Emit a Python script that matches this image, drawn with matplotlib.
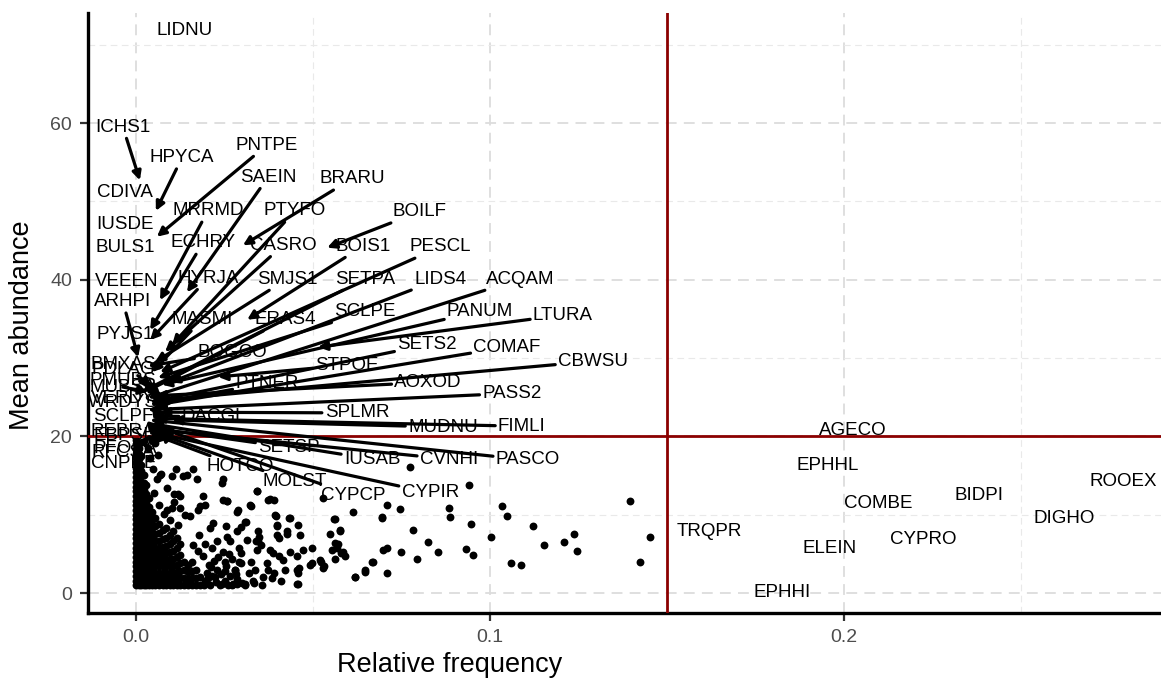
import matplotlib
matplotlib.use('Agg')
import matplotlib.pyplot as plt

plt.rcParams['font.family'] = ['Liberation Sans', 'DejaVu Sans']

# ---------------- labelled species (data point + label placement) ----------------
species = ["LIDNU", "ICHS1", "HPYCA", "PNTPE", "CDIVA", "SAEIN", "BRARU", "MRRMD",
           "PTYFO", "BOILF", "IUSDE", "ECHRY", "CASRO", "BOIS1", "PESCL", "BULS1",
           "VEEEN", "HYRJA", "SMJS1", "SETPA", "LIDS4", "ACQAM", "ARHPI", "SCLPE",
           "PANUM", "LTURA", "MASMI", "ERAS4", "PYJS1", "BOGCO", "SETS2", "COMAF",
           "CBWSU", "STPOE", "PTNER", "AOXOD", "PASS2", "DACGL", "SPLMR", "MUDNU",
           "FIMLI", "SETSP", "IUSAB", "CVNHI", "PASCO", "HOTCO", "MOLST", "CYPCP",
           "CYPIR", "BMXAS", "PDLAG", "PMUBS", "MUBSA", "VERDY", "WRDYS", "SCLPF",
           "REBRA", "EBPSI", "PFOSA", "RFCSA", "CNPRE",
           "AGECO", "EPHHL", "ROOEX", "BIDPI", "COMBE", "DIGHO", "TRQPR", "CYPRO",
           "ELEIN", "EPHHI"]

freq = [0.0138, 0.0011, 0.0056, 0.0059, 0.0012, 0.0144, 0.0302, 0.0068,
        0.0102, 0.0540, 0.0010, 0.0040, 0.0082, 0.0314, 0.0068, 0.0010,
        0.0010, 0.0040, 0.0054, 0.0017, 0.0096, 0.0034, 0.0006, 0.0062,
        0.0073, 0.0514, 0.0045, 0.0028, 0.0010, 0.0034, 0.0040, 0.0054,
        0.0062, 0.0232, 0.0040, 0.0056, 0.0034, 0.0045, 0.0068, 0.0102,
        0.0054, 0.0040, 0.0045, 0.0073, 0.0040, 0.0040, 0.0034, 0.0054,
        0.0068, 0.0045, 0.0068, 0.0082, 0.0034, 0.0096, 0.0110, 0.0082,
        0.0068, 0.0096, 0.0068, 0.0110, 0.0040,
        0.2025, 0.1955, 0.2788, 0.2381, 0.2096, 0.2621, 0.1619, 0.2223,
        0.1960, 0.1825]

abund = [71.8, 52.7, 48.8, 45.5, 51.2, 38.4, 44.4, 37.4,
         31.7, 44.1, 47.1, 33.6, 30.8, 34.9, 28.2, 44.1,
         39.8, 32.3, 29.5, 25.7, 26.9, 24.9, 30.1, 27.5,
         26.6, 31.4, 28.2, 25.7, 33.0, 29.0, 24.4, 24.0,
         24.6, 27.6, 24.1, 25.2, 23.4, 22.6, 23.1, 22.1,
         22.3, 21.1, 21.6, 20.8, 22.1, 20.4, 20.8, 21.3,
         20.3, 26.4, 25.3, 24.9, 25.7, 23.6, 24.4, 23.1,
         21.5, 20.6, 20.0, 20.1, 20.1,
         20.8, 16.3, 14.2, 12.4, 11.4, 9.5, 7.8, 6.8,
         5.7, 0.1]

# label placement (repelled text positions) and whether a segment is drawn
label_x = [0.0138, -0.0037, 0.0130, 0.0370, -0.0031, 0.0373, 0.0610, 0.0203,
           0.0449, 0.0802, -0.0031, 0.0189, 0.0415, 0.0641, 0.0859, -0.0031,
           -0.0025, 0.0203, 0.0427, 0.0647, 0.0859, 0.1085, -0.0037, 0.0647,
           0.0972, 0.1206, 0.0186, 0.0421, -0.0031, 0.0271, 0.0822, 0.1048,
           0.1291, 0.0596, 0.0370, 0.0825, 0.1062, 0.0220, 0.0624, 0.0867,
           0.1090, 0.0432, 0.0667, 0.0884, 0.1107, 0.0294, 0.0449, 0.0613,
           0.0831, -0.0037, -0.0037, -0.0037, -0.0037, -0.0037, -0.0037, -0.0037,
           -0.0037, -0.0042, -0.0031, -0.0037, -0.0034,
           0.2025, 0.1955, 0.2788, 0.2381, 0.2096, 0.2621, 0.1619, 0.2223,
           0.1960, 0.1825]

label_y = [71.8, 59.5, 55.6, 57.2, 51.2, 53.1, 52.9, 48.8,
           48.8, 48.7, 47.1, 44.7, 44.4, 44.3, 44.2, 44.1,
           39.8, 40.2, 40.1, 40.1, 40.1, 40.1, 37.2, 35.9,
           36.0, 35.5, 34.9, 34.9, 33.0, 30.7, 31.7, 31.4,
           29.6, 29.1, 26.8, 26.9, 25.5, 22.5, 23.0, 21.2,
           21.3, 18.6, 17.1, 17.1, 17.0, 16.1, 14.2, 12.5,
           12.8, 29.2, 28.5, 27.1, 26.3, 24.9, 24.3, 22.5,
           20.6, 20.1, 18.4, 18.0, 16.5,
           20.8, 16.3, 14.2, 12.4, 11.4, 9.5, 7.8, 6.8,
           5.7, 0.1]

has_segment = [False, True, True, True, False, True, True, True,
               True, True, False, True, True, True, True, False,
               False, True, True, True, True, True, True, True,
               True, True, True, True, False, True, True, True,
               True, True, True, True, True, True, True, True,
               True, True, True, True, True, True, True, True,
               True, True, True, True, True, True, True, True,
               True, True, True, True, True,
               False, False, False, False, False, False, False, False,
               False, False]

# ---------------- unlabelled species (background points) ----------------
# dense block near zero frequency, read column by column
dense_cols = [0.0001, 0.0008, 0.0015, 0.0022, 0.0029, 0.0036, 0.0045, 0.0055,
              0.0065, 0.0075, 0.0085, 0.0095, 0.0105, 0.0115, 0.0125, 0.0135,
              0.0147, 0.0158, 0.0170, 0.0180]
dense_col_abund = [
    [1.0, 1.6, 2.2, 2.8, 3.4, 4.0, 4.6, 5.2, 5.8, 6.4, 7.0, 7.6, 8.2, 8.8, 9.4, 10.0,
     10.6, 11.2, 11.8, 12.4, 13.0, 13.6, 14.2, 14.8, 15.4, 16.0, 16.6, 17.2, 17.8,
     18.4, 19.0, 19.6],
    [1.0, 1.7, 2.4, 3.1, 3.8, 4.5, 5.2, 5.9, 6.6, 7.3, 8.0, 8.7, 9.4, 10.1, 10.8,
     11.5, 12.2, 12.9, 13.6, 14.3, 15.0, 15.7, 16.4, 17.1, 17.8, 18.5, 19.2],
    [1.0, 1.6, 2.3, 3.0, 3.7, 4.4, 5.1, 5.8, 6.5, 7.2, 7.9, 8.6, 9.3, 10.0, 10.7,
     11.4, 12.1, 12.8, 13.5, 14.2, 14.9, 15.6, 16.4, 17.5],
    [1.0, 1.7, 2.4, 3.1, 3.8, 4.5, 5.2, 5.9, 6.6, 7.3, 8.0, 8.7, 9.4, 10.1, 10.8,
     11.5, 12.3, 13.1, 14.0, 15.1],
    [1.0, 1.8, 2.6, 3.4, 4.2, 5.0, 5.8, 6.6, 7.4, 8.2, 9.0, 9.8, 10.6, 11.5, 12.6, 13.8],
    [1.0, 1.8, 2.6, 3.4, 4.2, 5.0, 5.8, 6.6, 7.4, 8.2, 9.0, 9.9, 11.0, 12.1],
    [1.0, 1.8, 2.6, 3.4, 4.2, 5.0, 5.8, 6.6, 7.4, 8.3, 9.3, 10.4],
    [1.0, 1.8, 2.6, 3.4, 4.2, 5.0, 5.8, 6.6, 7.5, 8.5, 9.6],
    [1.0, 1.8, 2.6, 3.4, 4.2, 5.0, 5.8, 6.7, 7.7, 8.8],
    [1.0, 1.8, 2.6, 3.4, 4.2, 5.0, 5.9, 6.9, 8.1],
    [1.0, 1.8, 2.6, 3.4, 4.2, 5.1, 6.0, 7.0, 8.3],
    [1.0, 1.8, 2.6, 3.4, 4.3, 5.2, 6.2, 7.4],
    [1.0, 1.8, 2.6, 3.5, 4.4, 5.4, 6.6, 7.9],
    [1.0, 1.8, 2.7, 3.6, 4.6, 5.8, 7.0],
    [1.0, 1.9, 2.8, 3.8, 4.9, 6.2],
    [1.0, 1.9, 2.9, 4.0],
    [1.0, 1.8, 2.7, 3.6],
    [1.0, 1.9, 2.8, 3.9],
    [1.0, 1.9, 3.0],
    [1.0, 2.0],
]

sparse_freq = [0.0192, 0.0203, 0.0212, 0.0222, 0.0233, 0.0243, 0.0252, 0.0262, 0.0272, 0.0283,
               0.0292, 0.0300, 0.0318, 0.0325, 0.0335, 0.0360, 0.0372, 0.0390, 0.0410, 0.0420,
               0.0190, 0.0195, 0.0200, 0.0205, 0.0210, 0.0215, 0.0220, 0.0225, 0.0230, 0.0236,
               0.0240, 0.0245, 0.0250, 0.0255, 0.0260, 0.0265, 0.0270, 0.0275, 0.0280, 0.0285,
               0.0290, 0.0195, 0.0215, 0.0160, 0.0175, 0.0230, 0.0250,
               0.0050, 0.0058, 0.0065, 0.0072, 0.0080, 0.0088, 0.0095, 0.0101, 0.0108, 0.0120,
               0.0124, 0.0134, 0.0040, 0.0048, 0.0062, 0.0035, 0.0055,
               0.1395, 0.1451, 0.1423, 0.0942, 0.0774, 0.1034, 0.1047, 0.0885, 0.0888, 0.0709,
               0.0747, 0.0613, 0.0696, 0.0560, 0.0946, 0.0782, 0.1121, 0.1237, 0.1004, 0.1152,
               0.1210, 0.1246, 0.0826, 0.0853, 0.0932, 0.0951, 0.0709, 0.0750, 0.0795, 0.1058,
               0.1088, 0.0618, 0.0648, 0.0666, 0.0709, 0.0555, 0.0561, 0.0568, 0.0579, 0.0590,
               0.0577, 0.0548, 0.0523, 0.0530, 0.0496, 0.0460, 0.0458, 0.0455, 0.0404, 0.0415,
               0.0379, 0.0386, 0.0404, 0.0426, 0.0433, 0.0396, 0.0399, 0.0374, 0.0390, 0.0342,
               0.0324, 0.0310, 0.0345, 0.0347, 0.0339, 0.0352, 0.0296, 0.0285, 0.0253, 0.0258,
               0.0247, 0.0258, 0.0245, 0.0287, 0.0209, 0.0177, 0.0307, 0.0355, 0.0334, 0.0188,
               0.0123, 0.0107, 0.0102, 0.0182, 0.0139, 0.0161, 0.0145, 0.0112, 0.0069,
               0.0171, 0.0242, 0.0341, 0.0379, 0.0256, 0.0322, 0.0284, 0.0308, 0.0393, 0.0397,
               0.0435, 0.0459, 0.0397, 0.0426, 0.0463, 0.0473, 0.0454, 0.0496, 0.0435, 0.0520,
               0.0454, 0.0459, 0.0383, 0.0331, 0.0369, 0.0341, 0.0346, 0.0313, 0.0266, 0.0298,
               0.0298, 0.0280, 0.0284, 0.0308, 0.0218, 0.0195, 0.0176, 0.0153, 0.0120, 0.0087,
               0.0562, 0.0576, 0.0572, 0.0586, 0.0562, 0.0529, 0.0492, 0.0619, 0.0647, 0.0670,
               0.0699, 0.0694, 0.0527]
sparse_abund = [1.0, 1.9, 3.3, 2.1, 4.6, 1.1, 2.8, 5.0, 1.0, 2.4,
                3.9, 1.3, 2.6, 4.0, 3.0, 2.0, 3.0, 2.5, 1.5, 3.0,
                4.7, 1.5, 2.6, 3.6, 1.0, 2.2, 4.1, 1.4, 3.0, 1.0,
                2.4, 5.3, 1.5, 3.4, 1.0, 2.2, 4.4, 1.2, 3.0, 1.8,
                5.8, 6.3, 5.7, 6.1, 5.4, 6.6, 4.0,
                12.8, 14.6, 11.3, 15.2, 10.1, 13.4, 9.3, 14.9, 11.6, 12.6,
                10.9, 14.9, 17.2, 15.8, 17.6, 18.5, 19.2,
                11.7, 7.1, 3.9, 13.8, 16.1, 11.1, 9.9, 10.9, 9.7, 11.3,
                10.7, 10.3, 9.7, 9.4, 8.8, 8.1, 8.5, 7.6, 7.1, 6.1,
                6.5, 5.4, 6.5, 5.3, 5.6, 4.9, 5.8, 5.3, 4.4, 3.8,
                3.6, 2.1, 2.7, 3.9, 2.6, 5.5, 6.4, 5.7, 5.1, 4.7,
                8.1, 7.6, 4.0, 3.4, 3.8, 3.2, 2.6, 1.2, 4.7, 4.2,
                5.5, 5.1, 7.0, 7.6, 9.6, 9.9, 8.5, 11.9, 11.9, 13.0,
                11.1, 9.1, 7.9, 7.1, 6.6, 6.1, 8.4, 7.9, 8.5, 7.2,
                11.9, 11.7, 14.5, 10.6, 8.3, 7.4, 1.2, 1.0, 1.3, 12.4,
                12.4, 12.6, 10.9, 11.1, 10.0, 15.8, 15.1, 15.8, 15.1,
                14.6, 14.1, 13.0, 12.0, 11.7, 11.3, 10.3, 9.1, 10.0, 8.7,
                9.6, 8.7, 7.4, 7.9, 7.4, 5.5, 4.7, 5.7, 5.3, 4.2,
                2.9, 1.2, 1.9, 1.5, 3.8, 5.5, 6.6, 6.8, 6.6, 5.1,
                3.8, 2.9, 1.2, 1.0, 8.9, 11.3, 10.6, 9.8, 8.7, 10.6,
                9.4, 7.9, 6.2, 5.3, 4.4, 3.2, 3.6, 2.1, 2.9, 4.0,
                5.5, 9.6, 12.1]

x_ticks = [0.0, 0.1, 0.2]
x_tick_labels = ["0.0", "0.1", "0.2"]
y_ticks = [0, 20, 40, 60]
y_tick_labels = ["0", "20", "40", "60"]
freq_cut = 0.15
abund_cut = 20

# ---------------- drawing ----------------
fig = plt.figure(figsize=(11.61, 6.82), dpi=100)
ax = fig.add_axes([88 / 1161, 69 / 682, 1073 / 1161, 600 / 682])
ax.set_xlim(-0.01356, 0.28955)
ax.set_ylim(-2.55, 74.07)

ax.set_xticks(x_ticks)
ax.set_xticklabels(x_tick_labels)
ax.set_yticks(y_ticks)
ax.set_yticklabels(y_tick_labels)
ax.set_xticks([0.05, 0.15, 0.25], minor=True)
ax.set_yticks([10, 30, 50, 70], minor=True)
ax.grid(which='major', color='#DCDCDC', lw=1.3, ls=(0, (6, 4)))
ax.grid(which='minor', color='#E9E9E9', lw=0.8, ls=(0, (6, 4)))
ax.set_axisbelow(True)
ax.tick_params(which='minor', length=0)
ax.tick_params(which='major', length=5.5, width=1.6, color='#333333',
               labelcolor='#4D4D4D', labelsize=14, pad=6)

for s in ['top', 'right']:
    ax.spines[s].set_visible(False)
for s in ['left', 'bottom']:
    ax.spines[s].set_linewidth(2.4)
    ax.spines[s].set_color('black')

bg_freq = []
bg_abund = []
for cx, ys in zip(dense_cols, dense_col_abund):
    bg_freq += [cx] * len(ys)
    bg_abund += ys
bg_freq += sparse_freq
bg_abund += sparse_abund

ax.scatter(bg_freq, bg_abund, s=32, c='black', linewidths=0, zorder=2)

ax.axvline(freq_cut, color='#8B0000', lw=2.0, zorder=3)
ax.axhline(abund_cut, color='#8B0000', lw=2.0, zorder=3)

for name, fx, fy, lx, ly, seg in zip(species, freq, abund, label_x, label_y, has_segment):
    if seg:
        ax.annotate(name, xy=(fx, fy), xytext=(lx, ly), ha='center', va='center',
                    fontsize=13.5, color='black', zorder=5,
                    arrowprops=dict(arrowstyle='-|>,head_length=0.4,head_width=0.2',
                                    lw=2.3, color='black', shrinkA=0, shrinkB=0,
                                    mutation_scale=13))
    else:
        ax.text(lx, ly, name, ha='center', va='center', fontsize=13.5,
                color='black', zorder=5)

ax.set_xlabel('Relative frequency', fontsize=19.5, color='black')
ax.xaxis.label.set_va('center')
ax.xaxis.set_label_coords((450 - 88) / 1073, (613 - 665) / 600)
ax.set_ylabel('Mean abundance', fontsize=19.5, color='black')
ax.yaxis.label.set_va('center')
ax.yaxis.set_label_coords((22 - 88) / 1073, (613 - 325) / 600)

fig.savefig('out.png', dpi=100)
